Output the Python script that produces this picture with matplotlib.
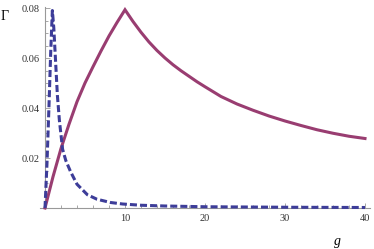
import matplotlib
matplotlib.use("Agg")
import matplotlib.pyplot as plt
from matplotlib.ticker import MultipleLocator, FixedLocator

# solid curve
g_solid = [0, 1, 2, 3, 4, 5, 6, 7, 8, 9, 10, 11, 12, 13, 14, 15, 16, 17, 18,
           19, 20, 22, 24, 26, 28, 30, 32, 34, 36, 38, 40]
gamma_solid = [0, 0.0125, 0.0238, 0.0335, 0.0425, 0.050, 0.0565, 0.0628,
               0.0688, 0.0742, 0.0793, 0.0746, 0.0703, 0.0664, 0.0630, 0.0600,
               0.0573, 0.0549, 0.0527, 0.0505, 0.0485, 0.0446, 0.0416, 0.0391,
               0.0368, 0.0348, 0.0330, 0.0313, 0.0299, 0.0287, 0.0278]

# dashed curve
g_dashed = [0, 0.25, 0.5, 0.71, 0.92, 1.1, 1.25, 1.55, 1.8, 2.2, 2.6, 3.2, 4.0,
            5.3, 6.5, 8.2, 9.7, 12, 15, 20, 25, 30, 40]
gamma_dashed = [0, 0.018, 0.041, 0.062, 0.079, 0.072, 0.063, 0.045, 0.035,
                0.0235, 0.019, 0.0145, 0.0095, 0.0053, 0.0035, 0.0022, 0.0016,
                0.0011, 0.0008, 0.0005, 0.0004, 0.0003, 0.0002]

x_major = [10, 20, 30, 40]
y_major = [0.02, 0.04, 0.06, 0.08]

W, H = 374, 249
fig = plt.figure(figsize=(W / 100, H / 100), dpi=100)
# pixel layout: x=0 at px 45, 8 px per unit; y=0 at px 208, 2500 px per unit
x0, sx = 45, 8.0
y0, sy = 208, 2500
xlo, xhi = -0.6, 40.6
ylo, yhi = 0.0, 0.0806
ax = fig.add_axes([(x0 + xlo * sx) / W, (H - y0) / H,
                   (xhi - xlo) * sx / W, (yhi - ylo) * sy / H])
ax.set_xlim(xlo, xhi)
ax.set_ylim(ylo, yhi)

purple = "#993d71"
blue = "#3d3d99"
ax.plot(g_solid, gamma_solid, color=purple, lw=2.2, solid_joinstyle="miter",
        clip_on=False, zorder=3)
ax.plot(g_dashed, gamma_dashed, color=blue, lw=2.2, dashes=(2.3, 1.0),
        clip_on=False, zorder=4)

for s in ["top", "right"]:
    ax.spines[s].set_visible(False)
ax.spines["left"].set_position(("data", 0))
ax.spines["bottom"].set_position(("data", 0))
for s in ["left", "bottom"]:
    ax.spines[s].set_color("#999999")
    ax.spines[s].set_linewidth(0.8)

ax.xaxis.set_major_locator(FixedLocator(x_major))
ax.xaxis.set_minor_locator(MultipleLocator(2))
ax.yaxis.set_major_locator(FixedLocator(y_major))
ax.yaxis.set_minor_locator(MultipleLocator(0.005))
ax.set_xticklabels([str(v) for v in x_major])
ax.set_yticklabels(["%.2f" % v for v in y_major])
ax.tick_params(which="both", direction="in", color="#999999", width=0.6,
               labelsize=7.5, pad=4)
ax.tick_params(which="major", length=3.5)
ax.tick_params(which="minor", length=2)
for lab in ax.get_xticklabels() + ax.get_yticklabels():
    lab.set_fontfamily("Liberation Serif")
    lab.set_color("#333333")

fig.text(5 / W, 1 - 16 / H, "\u0393", fontsize=10, family="Liberation Serif",
         ha="center", va="center")
fig.text(337 / W, 1 - 241 / H, "g", fontsize=10, family="Liberation Serif",
         style="italic", ha="center", va="center")

fig.savefig("out.png", dpi=100)
